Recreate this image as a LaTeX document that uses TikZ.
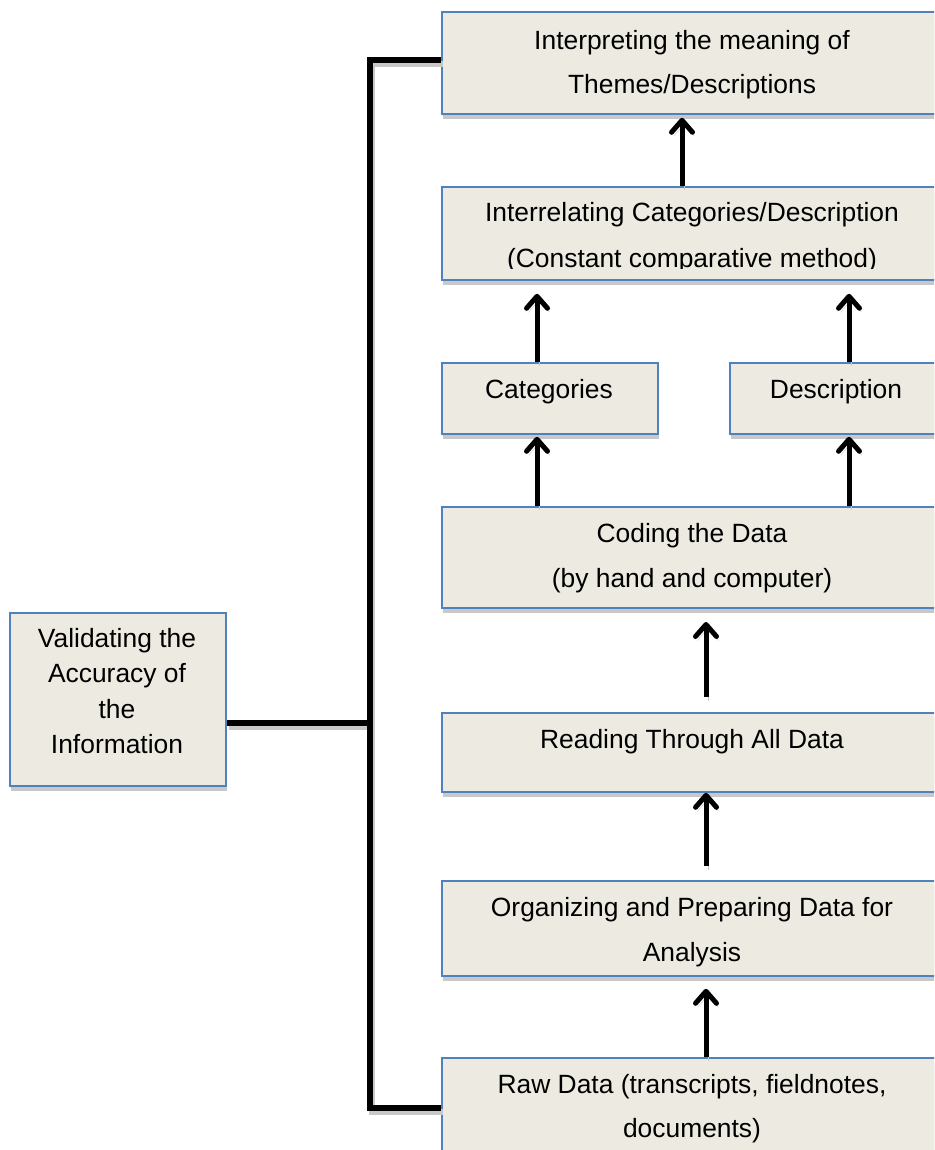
\documentclass[tikz,border=0pt]{standalone}
\usepackage{fontspec}
\setmainfont{Liberation Sans}
\usetikzlibrary{arrows.meta,shadows,calc}
\definecolor{boxfill}{RGB}{237,235,225}
\definecolor{boxblue}{RGB}{79,129,189}
\definecolor{shd}{RGB}{200,200,200}
\tikzset{
  box/.style={draw=boxblue, line width=1.8pt, fill=boxfill, inner sep=0pt, anchor=north west,
    drop shadow={shadow xshift=1.5pt, shadow yshift=-5pt, fill=shd, opacity=1}},
  txt/.style={font=\fontsize{26.4}{32}\selectfont, anchor=base, inner sep=0pt},
  conn/.style={line width=5.5pt, preaction={draw=shd, line width=5.5pt, transform canvas={xshift=2pt,yshift=-4pt}}},
  arr/.style={line width=5pt, -{Straight Barb[length=12pt,width=21pt,round]},
    preaction={draw=shd, transform canvas={xshift=2pt,yshift=-4pt}}}
}
\begin{document}
\begin{tikzpicture}[x=1pt,y=-1pt]
\useasboundingbox (0,0) rectangle (934,1150);
\clip (0,0) rectangle (934,1150);
% boxes
\node[box, minimum width=502, minimum height=102] (b1) at (441,11) {};
\node[box, minimum width=502, minimum height=93] (b2) at (441,186) {};
\node[box, minimum width=216, minimum height=71] (cat) at (441,362) {};
\node[box, minimum width=214, minimum height=71] (desc) at (729,362) {};
\node[box, minimum width=502, minimum height=101] (cod) at (441,506) {};
\node[box, minimum width=502, minimum height=79] (rd) at (441,712) {};
\node[box, minimum width=502, minimum height=95] (org) at (441,880) {};
\node[box, minimum width=502, minimum height=100] (raw) at (441,1057) {};
\node[box, minimum width=216, minimum height=173] (val) at (9,612) {};
% texts
\node[txt] (t1a) at (692,50) {Interpreting the meaning of};
\node[txt] (t1b) at (692,94) {Themes/Descriptions};
\begin{scope}
\clip (441,186) rectangle (943,268.5);
\node[txt] (t2a) at (692,222) {Interrelating Categories/Description};
\node[txt] (t2b) at (692,267) {(Constant comparative method)};
\end{scope}
\node[txt] (t3) at (549,398) {Categories};
\node[txt] (t4) at (836,398) {Description};
\node[txt] (t5a) at (692,542) {Coding the Data};
\node[txt] (t5b) at (692,587) {(by hand and computer)};
\node[txt] (t6) at (692,748) {Reading Through All Data};
\node[txt] (t7a) at (692,916) {Organizing and Preparing Data for};
\node[txt] (t7b) at (692,961) {Analysis};
\node[txt] (t8a) at (692,1093) {Raw Data (transcripts, fieldnotes,};
\node[txt] (t8b) at (692,1137) {documents)};
\node[txt] (v1) at (117,647) {Validating the};
\node[txt] (v2) at (117,682) {Accuracy of};
\node[txt] (v3) at (117,718) {the};
\node[txt] (v4) at (117,753) {Information};
% connector bus
\coordinate (bx) at (370,0);
\coordinate (vj) at ($(val.east)+(0,23.5)$);
\coordinate (tj) at ($(b1.west)+(0,-3)$);
\draw[conn] (vj) -- (vj -| bx);
\draw[conn] (tj) -- (tj -| bx) -- (raw.west -| bx) -- (raw.west);
% arrows
\coordinate (xa) at (682,0);
\coordinate (xc) at (537,0);
\coordinate (xd) at (849,0);
\coordinate (xr) at (706,0);
\coordinate (r1) at (706,697);
\coordinate (r2) at (706,622);
\coordinate (o1) at (706,866);
\draw[arr] (b2.north -| xa) -- ($(b1.south -| xa)+(0,3)$);
\draw[arr] (cat.north -| xc) -- ($(b2.south -| xc)+(0,13)$);
\draw[arr] (desc.north -| xd) -- ($(b2.south -| xd)+(0,13)$);
\draw[arr] (cod.north -| xc) -- ($(cat.south -| xc)+(0,2)$);
\draw[arr] (cod.north -| xd) -- ($(desc.south -| xd)+(0,2)$);
\draw[arr] (r1) -- (r2);
\draw[arr] (o1) -- (rd.south -| xr);
\draw[arr] (raw.north -| xr) -- ($(org.south -| xr)+(0,12)$);
\end{tikzpicture}
\end{document}
